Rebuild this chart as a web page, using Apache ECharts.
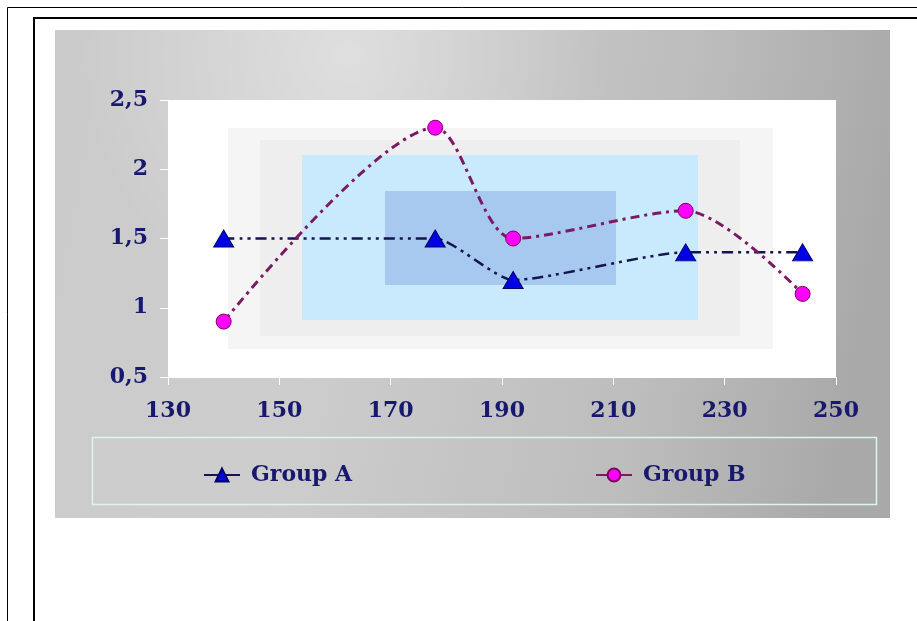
<!DOCTYPE html>
<html>
<head>
<meta charset="utf-8">
<script src="https://cdn.jsdelivr.net/npm/echarts@6/dist/echarts.min.js"></script>
<style>
  html, body { margin: 0; padding: 0; background: #ffffff; }
  #chart { width: 917px; height: 621px; }
</style>
</head>
<body>
<div id="chart"></div>
<script>
// Series data: [x, y] pairs
const groupAName = 'Group A';
const groupBName = 'Group B';
const groupAX = [140, 178, 192, 223, 244];
const groupAY = [1.5, 1.5, 1.2, 1.4, 1.4];
const groupBX = [140, 178, 192, 223, 244];
const groupBY = [0.9, 2.3, 1.5, 1.7, 1.1];

// Axis ranges
const xMin = 130, xMax = 250, xStep = 20;
const yMin = 0.5, yMax = 2.5, yStep = 0.5;

const pairs = (xs, ys) => xs.map((x, i) => [x, ys[i]]);

const textColor = '#18186e';
const fontFamily = '"DejaVu Serif", "Liberation Serif", serif';

const chart = echarts.init(document.getElementById('chart'), null, { renderer: 'canvas' });

chart.setOption({
  animation: false,
  backgroundColor: '#ffffff',
  graphic: [
    // page frames
    { type: 'rect', z: -20, shape: { x: 7.5, y: 7.5, width: 930, height: 630 },
      style: { fill: null, stroke: '#000', lineWidth: 1 } },
    { type: 'rect', z: -20, shape: { x: 34, y: 18, width: 930, height: 630 },
      style: { fill: null, stroke: '#000', lineWidth: 2 } },
    // chart panel
    { type: 'rect', z: -10, shape: { x: 55, y: 30, width: 835, height: 488 },
      style: { fill: new echarts.graphic.LinearGradient(0, 0, 1, 0.3, [
        { offset: 0, color: '#cbcbcb' },
        { offset: 0.35, color: '#cdcdcd' },
        { offset: 0.75, color: '#bdbdbd' },
        { offset: 1, color: '#a9a9a9' }
      ]) } },
    { type: 'rect', z: -9, shape: { x: 55, y: 30, width: 835, height: 488 },
      style: { fill: new echarts.graphic.RadialGradient(0.35, 0.05, 0.55, [
        { offset: 0, color: 'rgba(255,255,255,0.35)' },
        { offset: 1, color: 'rgba(255,255,255,0)' }
      ]) } },
    // plot-area fill bands
    { type: 'rect', z: 1, shape: { x: 228, y: 128, width: 545, height: 221 },
      style: { fill: '#f5f5f5' } },
    { type: 'rect', z: 1, shape: { x: 260, y: 140, width: 480, height: 196 },
      style: { fill: '#eeeeee' } },
    { type: 'rect', z: 1, shape: { x: 302, y: 155, width: 396, height: 165 },
      style: { fill: '#c9e9fc' } },
    { type: 'rect', z: 1, shape: { x: 385, y: 191, width: 231, height: 94 },
      style: { fill: '#a7c9ef' } },
    // legend frame
    { type: 'rect', z: 1, shape: { x: 92.5, y: 437.5, width: 784, height: 67 },
      style: { fill: null, stroke: '#dff3f3', lineWidth: 1.5 } }
  ],
  grid: {
    left: 168, top: 100, right: 81, bottom: 244,
    show: true, backgroundColor: '#ffffff', borderWidth: 0, z: 0
  },
  xAxis: {
    type: 'value', min: xMin, max: xMax, interval: xStep,
    axisLine: { show: true, lineStyle: { color: '#ffffff', width: 1 } },
    axisTick: { show: true, inside: false, length: 8, lineStyle: { color: '#ffffff', width: 1 } },
    splitLine: { show: false },
    axisLabel: { color: textColor, fontFamily, fontSize: 22, fontWeight: 'bold', margin: 23 }
  },
  yAxis: {
    type: 'value', min: yMin, max: yMax, interval: yStep,
    axisLine: { show: true, lineStyle: { color: '#ffffff', width: 1 } },
    axisTick: { show: true, inside: false, length: 8, lineStyle: { color: '#ffffff', width: 1 } },
    splitLine: { show: false },
    axisLabel: {
      color: textColor, fontFamily, fontSize: 22, fontWeight: 'bold', margin: 20,
      formatter: v => String(v).replace('.', ',')
    }
  },
  legend: [
    {
      data: [groupAName], left: 198, top: 459, itemWidth: 36, itemHeight: 16,
      lineStyle: { type: 'solid', width: 2 },
      textStyle: { color: textColor, fontFamily, fontSize: 22, fontWeight: 'bold', padding: [0, 0, 0, 6] }
    },
    {
      data: [groupBName], left: 590, top: 459, itemWidth: 36, itemHeight: 16,
      lineStyle: { type: 'solid', width: 2 },
      textStyle: { color: textColor, fontFamily, fontSize: 22, fontWeight: 'bold', padding: [0, 0, 0, 6] }
    }
  ],
  series: [
    {
      name: groupAName, type: 'line', z: 3,
      data: pairs(groupAX, groupAY),
      smooth: 0.2,
      symbol: 'triangle', symbolSize: [20, 17],
      itemStyle: { color: '#0000e6', borderColor: '#000066', borderWidth: 1 },
      lineStyle: { color: '#141450', width: 2.5, type: [11, 5, 3, 5, 3, 5] }
    },
    {
      name: groupBName, type: 'line', z: 4,
      data: pairs(groupBX, groupBY),
      smooth: 0.28,
      symbol: 'circle', symbolSize: 15,
      itemStyle: { color: '#ff00ff', borderColor: '#800060', borderWidth: 1 },
      lineStyle: { color: '#7a1a62', width: 3, type: [9, 5, 3, 5] }
    }
  ]
});
</script>
</body>
</html>
